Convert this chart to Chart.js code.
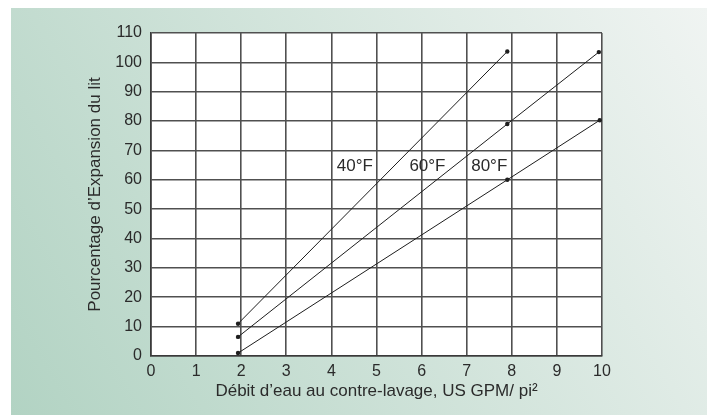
<!DOCTYPE html>
<html>
<head>
<meta charset="utf-8">
<script src="https://cdn.jsdelivr.net/npm/chart.js@4/dist/chart.umd.min.js"></script>
<style>
  html, body { margin: 0; padding: 0; background: #fff; }
  #wrap { width: 707px; height: 415px; }
</style>
</head>
<body>
<div id="wrap"><canvas id="expansionChart" width="707" height="415"></canvas></div>
<script>
// values
const xTicks = [0, 1, 2, 3, 4, 5, 6, 7, 8, 9, 10];
const yTicks = [0, 10, 20, 30, 40, 50, 60, 70, 80, 90, 100, 110];

const temps = ['40°F', '60°F', '80°F'];
const flow40 = [1.93, 7.9];
const exp40 = [11, 103.7];
const flow60 = [1.93, 7.9, 9.93];
const exp60 = [6.5, 79, 103.5];
const flow80 = [1.93, 7.9, 9.95];
const exp80 = [1, 60, 80.3];

// where the temperature labels sit (data units)
const tempLabelX = [4.52, 6.13, 7.5];
const tempLabelY = [64.7, 64.7, 64.7];

const toPoints = (xs, ys) => xs.map((x, i) => ({ x: x, y: ys[i] }));

const FONT = '"Liberation Sans", Arial, sans-serif';
const TEXT = '#2b2b2b';

const ctx = document.getElementById('expansionChart').getContext('2d');

const lineStyle = {
    showLine: true,
    borderColor: '#1e1e1e',
    borderWidth: 1,
    pointRadius: 2.2,
    pointBackgroundColor: '#1e1e1e',
    pointBorderWidth: 0,
    tension: 0
};

const chart = new Chart(ctx, {
    type: 'scatter',
    data: {
        datasets: [
            Object.assign({ label: temps[0], data: toPoints(flow40, exp40) }, lineStyle),
            Object.assign({ label: temps[1], data: toPoints(flow60, exp60) }, lineStyle),
            Object.assign({ label: temps[2], data: toPoints(flow80, exp80) }, lineStyle)
        ]
    },
    options: {
        responsive: false,
        animation: false,
        layout: { padding: { left: 0, right: 105, top: 33, bottom: 0 } },
        plugins: {
            legend: { display: false },
            title: { display: false },
            tooltip: { enabled: false }
        },
        scales: {
            x: {
                type: 'linear',
                min: 0,
                max: 10,
                afterBuildTicks: function (scale) {
                    scale.ticks = xTicks.map(v => ({ value: v }));
                },
                afterFit: function (scale) { scale.height = 59; },
                grid: { color: '#505050', lineWidth: 1.6, drawTicks: false },
                border: { color: '#3a3a3a', width: 1.6 },
                ticks: { padding: 6, color: TEXT, font: { family: FONT, size: 16 }, maxRotation: 0 },
                title: {
                    display: true,
                    text: 'Débit d’eau au contre-lavage, US GPM/ pi²',
                    color: TEXT,
                    font: { family: FONT, size: 17 },
                    padding: { top: 0, bottom: 13 }
                }
            },
            y: {
                type: 'linear',
                min: 0,
                max: 110,
                afterBuildTicks: function (scale) {
                    scale.ticks = yTicks.map(v => ({ value: v }));
                },
                afterFit: function (scale) { scale.width = 151; },
                grid: { color: '#505050', lineWidth: 1.6, drawTicks: false },
                border: { color: '#3a3a3a', width: 1.6 },
                ticks: { padding: 9, color: TEXT, font: { family: FONT, size: 16 } },
                title: {
                    display: true,
                    text: 'Pourcentage d’Expansion du lit',
                    color: TEXT,
                    font: { family: FONT, size: 17 },
                    padding: { top: 85, bottom: 0 }
                }
            }
        }
    },
    plugins: [{
        id: 'panel',
        beforeDraw: function (chart) {
            const c = chart.ctx;
            const w = chart.width, h = chart.height;
            c.save();
            c.fillStyle = '#ffffff';
            c.fillRect(0, 0, w, h);
            const g = c.createLinearGradient(11, h, w, 8);
            g.addColorStop(0, '#b2d3c3');
            g.addColorStop(1, '#f0f4f2');
            c.fillStyle = g;
            c.fillRect(11, 8, w - 11, h - 8);
            const a = chart.chartArea;
            c.fillStyle = '#ffffff';
            c.fillRect(a.left, a.top, a.right - a.left, a.bottom - a.top);
            c.restore();
        },
        afterDatasetsDraw: function (chart) {
            const c = chart.ctx;
            const sx = chart.scales.x, sy = chart.scales.y;
            c.save();
            c.font = '17px ' + FONT;
            c.fillStyle = TEXT;
            c.textAlign = 'center';
            c.textBaseline = 'middle';
            temps.forEach(function (t, i) {
                c.fillText(t, sx.getPixelForValue(tempLabelX[i]), sy.getPixelForValue(tempLabelY[i]));
            });
            c.restore();
        }
    }]
});
</script>
</body>
</html>
